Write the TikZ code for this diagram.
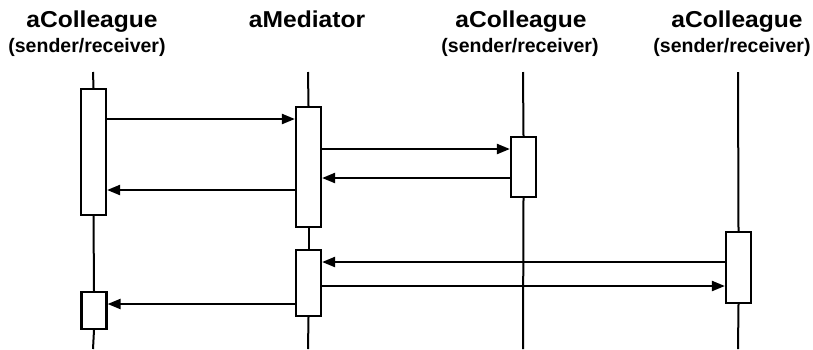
\documentclass[tikz,border=0pt]{standalone}
\usepackage{fontspec}
\setmainfont{Liberation Sans}
\usetikzlibrary{arrows.meta}
\begin{document}
\begin{tikzpicture}[x=1pt,y=-1pt,
  lifeline/.style={line width=2pt},
  act/.style={draw,fill=white,line width=2.2pt,minimum width=25pt,inner sep=0pt},
  msg/.style={line width=2.2pt,-{Triangle[length=13pt,width=10pt]}},
  title/.style={anchor=base,inner sep=0pt,font=\fontsize{23}{25}\selectfont\bfseries},
  subtitle/.style={anchor=base,inner sep=0pt,font=\fontsize{19.5}{21}\selectfont\bfseries}]
\useasboundingbox (0,0) rectangle (813,349);
% headers
\node[title] (h1) at (92,27) {\scalebox{1.07}[1]{aColleague}};
\node[subtitle] (s1) at (87,52) {(sender/receiver)};
\node[title] (h2) at (307,27) {\scalebox{1.07}[1]{aMediator}};
\node[title] (h3) at (521,27) {\scalebox{1.07}[1]{aColleague}};
\node[subtitle] (s3) at (520,52) {(sender/receiver)};
\node[title] (h4) at (737,27) {\scalebox{1.07}[1]{aColleague}};
\node[subtitle] (s4) at (732,52) {(sender/receiver)};
% lifeline ends
\coordinate (t1) at (93,72);  \coordinate (b1) at (93,349);
\coordinate (t2) at (308,72); \coordinate (b2) at (308,349);
\coordinate (t3) at (523,72); \coordinate (b3) at (523,349);
\coordinate (t4) at (738,72); \coordinate (b4) at (738,349);
% activation boxes
\node[act,minimum height=126pt] (c1a) at (93.5,152) {};
\node[act,minimum height=37pt]  (c1b) at (94,310.5) {};
\node[act,minimum height=120pt] (m1)  at (308.5,167) {};
\node[act,minimum height=66pt]  (m2)  at (308.5,283) {};
\node[act,minimum height=60pt]  (c3)  at (523.5,167) {};
\node[act,minimum height=71pt]  (c4)  at (738.5,267.5) {};
% lifelines
\draw[lifeline] (t1) -- (c1a.north);
\draw[lifeline] (c1a.south) -- (c1b.north);
\draw[lifeline] (c1b.south) -- (b1);
\draw[lifeline] (t2) -- (m1.north);
\draw[lifeline] (m1.south) -- (m2.north);
\draw[lifeline] (m2.south) -- (b2);
\draw[lifeline] (t3) -- (c3.north);
\draw[lifeline] (c3.south) -- (b3);
\draw[lifeline] (t4) -- (c4.north);
\draw[lifeline] (c4.south) -- (b4);
% messages
\draw[msg] (c1a.east |- 0,119) -- (m1.west |- 0,119);
\draw[msg] (m1.east |- 0,149) -- (c3.west |- 0,149);
\draw[msg] (c3.west |- 0,178) -- (m1.east |- 0,178);
\draw[msg] (m1.west |- 0,190) -- (c1a.east |- 0,190);
\draw[msg] (c4.west |- 0,262) -- (m2.east |- 0,262);
\draw[msg] (m2.east |- 0,286) -- (c4.west |- 0,286);
\draw[msg] (m2.west |- 0,304) -- (c1b.east |- 0,304);
\end{tikzpicture}
\end{document}
